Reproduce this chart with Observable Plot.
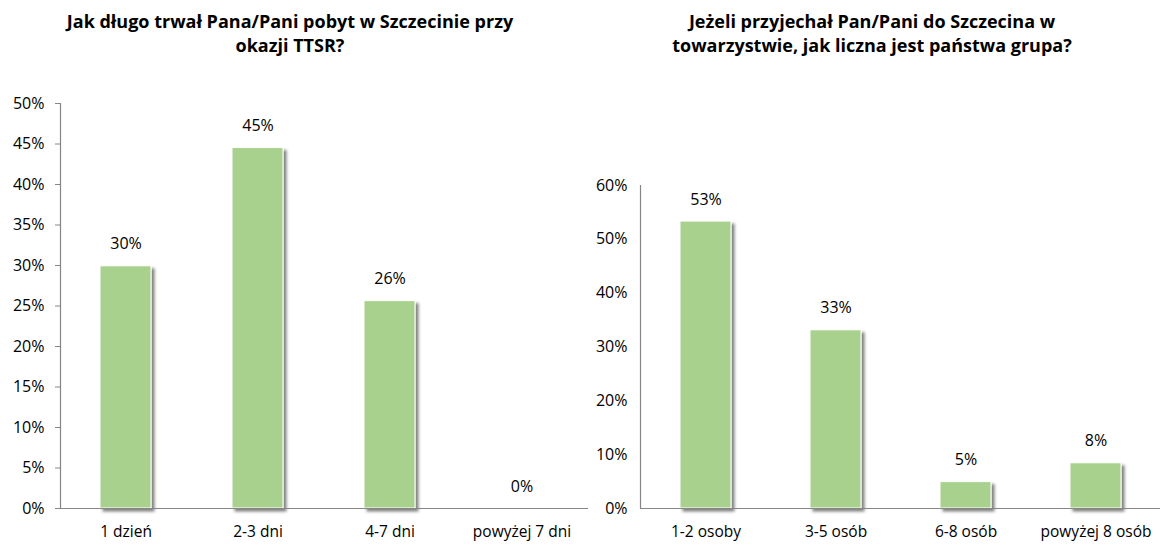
<!DOCTYPE html>
<html>
<head>
<meta charset="utf-8">
<script src="https://cdn.jsdelivr.net/npm/d3@7"></script>
<script src="https://cdn.jsdelivr.net/npm/@observablehq/plot@0.6"></script>
<style>
  body { margin: 0; background: #fff; width: 1162px; height: 545px; position: relative; overflow: hidden; font-family: "Open Sans", sans-serif; }
  .title { position: absolute; top: 9px; font-weight: bold; font-size: 18px; line-height: 24px; text-align: center; white-space: nowrap; transform: translateX(-50%); color: #000; }
  .chart { position: absolute; top: 0; }
  .chart svg { max-width: none; }
</style>
</head>
<body>
<div class="title" id="title1" style="left:290px"></div>
<div class="title" id="title2" style="left:872px"></div>
<div class="chart" id="chart1" style="left:0px"></div>
<div class="chart" id="chart2" style="left:580px"></div>
<script>
// ---- data ----
const stayTitle = ["Jak długo trwał Pana/Pani pobyt w Szczecinie przy", "okazji TTSR?"];
const stayCategories = ["1 dzień", "2-3 dni", "4-7 dni", "powyżej 7 dni"];
const stayValues = [29.9, 44.5, 25.6, 0];
const stayTicks = [0, 5, 10, 15, 20, 25, 30, 35, 40, 45, 50];

const groupTitle = ["Jeżeli przyjechał Pan/Pani do Szczecina w", "towarzystwie, jak liczna jest państwa grupa?"];
const groupCategories = ["1-2 osoby", "3-5 osób", "6-8 osób", "powyżej 8 osób"];
const groupValues = [53.3, 33.1, 4.9, 8.4];
const groupTicks = [0, 10, 20, 30, 40, 50, 60];

// ---- styles ----
const barColor = "#a9d18e";
const axisColor = "#868686";

function setTitle(id, lines) {
  const el = document.getElementById(id);
  lines.forEach((l, i) => {
    if (i) el.appendChild(document.createElement("br"));
    el.appendChild(document.createTextNode(l));
  });
}
setTitle("title1", stayTitle);
setTitle("title2", groupTitle);

function addShadow(svg, id) {
  const ns = "http://www.w3.org/2000/svg";
  const defs = document.createElementNS(ns, "defs");
  const f = document.createElementNS(ns, "filter");
  f.setAttribute("id", id);
  f.setAttribute("x", "-20%"); f.setAttribute("y", "-20%");
  f.setAttribute("width", "150%"); f.setAttribute("height", "150%");
  const ds = document.createElementNS(ns, "feDropShadow");
  ds.setAttribute("dx", "3"); ds.setAttribute("dy", "3");
  ds.setAttribute("stdDeviation", "1.8");
  ds.setAttribute("flood-color", "#000");
  ds.setAttribute("flood-opacity", "0.5");
  f.appendChild(ds); defs.appendChild(f);
  svg.insertBefore(defs, svg.firstChild);
  const g = svg.querySelector('g[aria-label="bar"]');
  if (g) g.setAttribute("filter", `url(#${id})`);
}

function chart({categories, values, ticks, yMax, width, marginLeft, marginRight, marginTop, tickSize, tickPadding, shadowId}) {
  const data = categories.map((c, i) => ({cat: c, value: values[i]}));
  const svg = Plot.plot({
    width, height: 545,
    marginTop, marginBottom: 37, marginLeft, marginRight,
    style: {fontFamily: "'Open Sans', sans-serif", fontSize: "15px", color: "#000", background: "transparent", overflow: "visible"},
    x: {domain: categories, paddingInner: 0.61, paddingOuter: 0.305, label: null},
    y: {domain: [0, yMax], label: null},
    marks: [
      Plot.barY(data, {x: "cat", y: "value", fill: barColor, stroke: "white", strokeWidth: 1}),
      Plot.ruleY([0], {stroke: axisColor, strokeWidth: 1.2}),
      Plot.frame({anchor: "left", stroke: axisColor, strokeWidth: 1.2}),
      Plot.text(data, {x: "cat", y: "value", text: d => Math.round(d.value) + "%", lineAnchor: "bottom", dy: -17, fontSize: 16, fill: "#000"}),
      Plot.axisY({ticks, tickSize, tickPadding, tickFormat: d => d + "%", stroke: axisColor, fill: "#000", fontSize: 16, label: null}),
      Plot.axisX({tickSize: 0, tickPadding: 17, fill: "#000", fontSize: 15.5, label: null})
    ]
  });
  addShadow(svg, shadowId);
  return svg;
}

document.getElementById("chart1").appendChild(chart({
  categories: stayCategories, values: stayValues, ticks: stayTicks, yMax: 50,
  width: 600, marginLeft: 60, marginRight: 12, marginTop: 103,
  tickSize: 5, tickPadding: 11, shadowId: "sh1"
}));
document.getElementById("chart2").appendChild(chart({
  categories: groupCategories, values: groupValues, ticks: groupTicks, yMax: 60,
  width: 582, marginLeft: 60, marginRight: 2, marginTop: 185,
  tickSize: 0, tickPadding: 13, shadowId: "sh2"
}));
</script>
</body>
</html>
